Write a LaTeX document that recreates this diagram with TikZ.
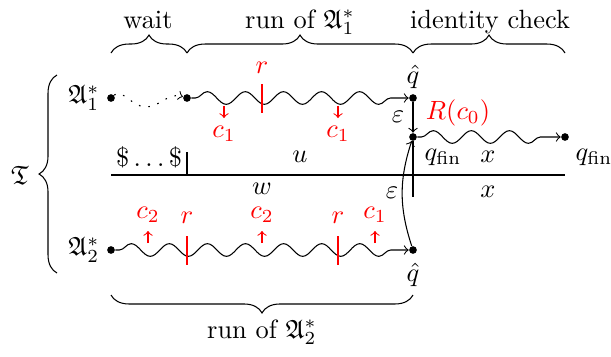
\documentclass[tikz,border=0pt]{standalone}
\usepackage{amssymb}
\usetikzlibrary{decorations.pathmorphing,decorations.pathreplacing}
\begin{document}
\begin{tikzpicture}[x=0.3788pt,y=-0.3788pt,
  dot/.style={circle,fill,inner sep=0pt,minimum size=2.9pt},
  wavy/.style={decorate,decoration={snake,amplitude=2.4pt,segment length=14.43pt,pre length=1.5pt,post length=1.5pt}},
  sparsedots/.style={dash pattern=on 0.6pt off 3pt},
  redtick/.style={red},
  cue/.style={red,->},
  brc/.style={decorate,decoration={brace,amplitude=6.8pt}},
  lab/.style={inner sep=0pt},
  rlab/.style={inner sep=0pt,text=red}]
\useasboundingbox (0,0) rectangle (611,356);
% top braces
\draw[brc] (111,53) -- (187,53);
\draw[brc] (187,53) -- (413,53);
\draw[brc] (413,53) -- (565,53);
\node[lab,anchor=base] (twait) at (148,28) {wait};
\node[lab,anchor=base] (trun1) at (300,28) {run of $\mathfrak{A}_1^*$};
\node[lab,anchor=base] (tid) at (490,28) {identity check};
% left brace
\draw[brc] (57,273) -- (57,75);
\node[lab] (tT) at (20,175) {$\mathfrak{T}$};
% states
\node[dot] (a0) at (111,98) {};
\node[dot] (a1) at (187,98) {};
\node[dot] (a2) at (413,98) {};
\node[dot] (f1) at (413,137) {};
\node[dot] (f2) at (565,137) {};
\node[dot] (b0) at (111,250) {};
\node[dot] (b1) at (413,250) {};
\node[lab] (lA1) at (84,98) {$\mathfrak{A}_1^*$};
\node[lab] (lA2) at (84,250) {$\mathfrak{A}_2^*$};
% runs
\coordinate (wdip) at (146,107);
\draw[sparsedots,->] (a0) .. controls (122,88) and (132,107) .. (wdip)
  .. controls (160,107) and (168,92) .. (a1);
\draw[wavy,->] (a1) -- (a2);
\draw[->] (a2) -- (f1);
\draw[wavy,->] (f1) -- (f2);
\draw[wavy,->] (b0) -- (b1);
\draw[->] (b1) to[bend left=18] (f1);
% tape
\coordinate (t0) at (111,175);
\coordinate (t1) at (565,175);
\coordinate (d0) at (187,152);
\coordinate (d1) at (187,175);
\coordinate (e1) at (413,197);
\draw (t0) -- (t1);
\draw (d0) -- (d1);
\draw (f1) -- (e1);
% red marks top
\draw[redtick] (262,84) -- (262,113);
\node[rlab] (rt) at (262,68) {$r$};
\draw[cue] (224,106) -- (224,118);
\node[rlab] (c1a) at (224,134) {$c_1$};
\draw[cue] (338,106) -- (338,118);
\node[rlab] (c1b) at (338,134) {$c_1$};
% red marks bottom
\draw[redtick] (187,236) -- (187,265);
\node[rlab] (rb1) at (187,218) {$r$};
\draw[redtick] (338,236) -- (338,265);
\node[rlab] (rb2) at (338,218) {$r$};
\draw[cue] (148,243) -- (148,231);
\node[rlab] (c2a) at (148,215) {$c_2$};
\draw[cue] (262,243) -- (262,231);
\node[rlab] (c2b) at (262,215) {$c_2$};
\draw[cue] (375,243) -- (375,231);
\node[rlab] (c1c) at (375,215) {$c_1$};
% labels
\node[lab] (qh1) at (413,77) {$\hat q$};
\node[lab] (eps1) at (398,117) {$\varepsilon$};
\node[rlab] (Rc) at (458,113) {$R(c_0)$};
\node[lab] (qf1) at (443,157) {$q_{\mathrm{fin}}$};
\node[lab] (x1) at (488,157) {$x$};
\node[lab] (qf2) at (594,157) {$q_{\mathrm{fin}}$};
\node[lab] (dol) at (149,157) {$\$\ldots\$$};
\node[lab] (u) at (300,157) {$u$};
\node[lab] (w) at (262,189) {$w$};
\node[lab] (x2) at (488,192) {$x$};
\node[lab] (eps2) at (392,193) {$\varepsilon$};
\node[lab] (qh2) at (413,275) {$\hat q$};
% bottom brace
\draw[brc] (413,295) -- (111,295);
\node[lab,anchor=base] (trun2) at (262,338) {run of $\mathfrak{A}_2^*$};
\end{tikzpicture}
\end{document}
